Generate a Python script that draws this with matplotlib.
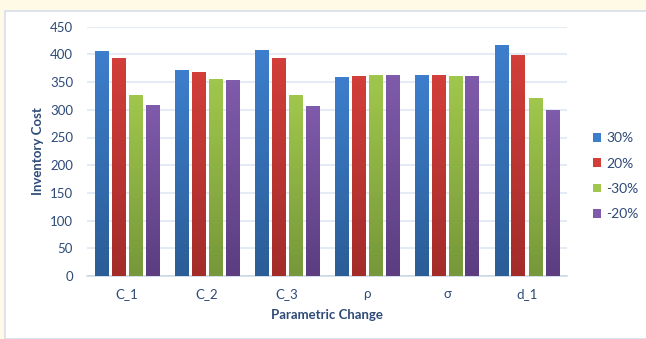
import numpy as np
import matplotlib
matplotlib.use("Agg")
from matplotlib import pyplot as plt
from matplotlib.colors import LinearSegmentedColormap
from matplotlib.patches import Rectangle

categories = ["C_1", "C_2", "C_3", "ρ", "σ", "d_1"]
series_names = ["30%", "20%", "-30%", "-20%"]
v_30 = [407, 372, 408, 360, 363, 417]
v_20 = [393, 369, 394, 361, 362, 399]
v_m30 = [327, 356, 326, 363, 361, 321]
v_m20 = [308, 353, 307, 363, 361, 299]
values = [v_30, v_20, v_m30, v_m20]

# top / bottom colours of the gradient fill
top_cols = ["#3D7ECC", "#D23E3A", "#A0C74C", "#7F5BAB"]
bot_cols = ["#2B5D97", "#A22C2A", "#76983A", "#5C3D80"]
text_col = "#2E4A78"

plt.rcParams["font.family"] = ["Lato", "DejaVu Sans"]

fig = plt.figure(figsize=(6.46, 3.39), dpi=100)
fig.patch.set_facecolor("#FFFAE6")
W, H = 646, 339
fig.patches.append(Rectangle((5 / W, 0), 1, 1 - 11 / H, transform=fig.transFigure,
                             facecolor="white", edgecolor="#D6DEEA", lw=1.2, zorder=-5))

ax = fig.add_axes([87 / W, 1 - 276 / H, 480 / W, (276 - 26.7) / H])
ax.set_facecolor("none")

x = np.arange(len(categories))
slot = 0.2125
width = 0.175
grad = np.linspace(0, 1, 64).reshape(-1, 1)
for i, (name, vals) in enumerate(zip(series_names, values)):
    offs = (i - 1.5) * slot
    bars = ax.bar(x + offs, vals, width, color=top_cols[i], label=name, zorder=2)
    cmap = LinearSegmentedColormap.from_list("g%d" % i, [bot_cols[i], top_cols[i]])
    for b in bars:
        x0 = b.get_x()
        im = ax.imshow(grad, extent=(x0, x0 + b.get_width(), 0, b.get_height()),
                       origin="lower", cmap=cmap, aspect="auto", zorder=3)
        im.set_clip_path(b)

ax.set_xlim(-0.5, len(categories) - 0.5)
ax.set_ylim(0, 450)
ax.set_yticks(np.arange(0, 451, 50))
ax.set_xticks(x)
ax.set_xticklabels(categories)
ax.grid(axis="y", color="#DCE5F1", lw=1.1, zorder=0)
ax.set_axisbelow(True)
for s in ["top", "right", "left"]:
    ax.spines[s].set_visible(False)
ax.spines["bottom"].set_color("#C9D5E6")
ax.spines["bottom"].set_linewidth(1.1)
ax.tick_params(axis="both", length=0, colors=text_col, labelsize=9.5)
ax.tick_params(axis="y", pad=10)
ax.tick_params(axis="x", pad=9)
ax.set_ylabel("Inventory Cost", color=text_col, fontsize=9.5, fontweight="bold", labelpad=4)
ax.set_xlabel("Parametric Change", color=text_col, fontsize=9.5, fontweight="bold", labelpad=6)

handles, labels = ax.get_legend_handles_labels()
leg = fig.legend(handles, labels, loc="upper left", bbox_to_anchor=(580 / W, 1 - 120 / H),
                 frameon=False, fontsize=10, labelcolor=text_col, handlelength=0.6,
                 handleheight=0.6, handletextpad=0.4, labelspacing=0.95)

fig.savefig("out.png", dpi=100, facecolor=fig.get_facecolor())
